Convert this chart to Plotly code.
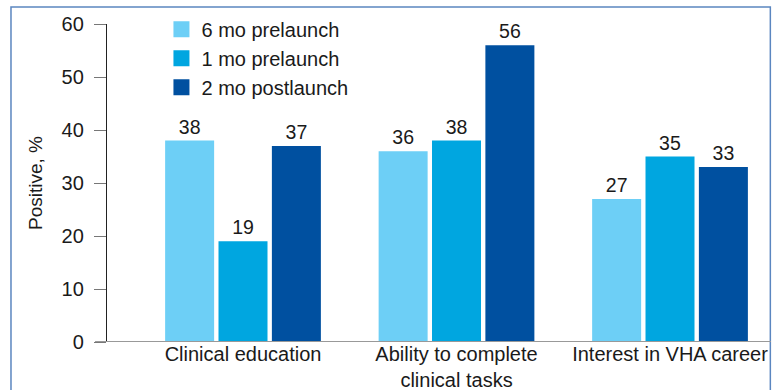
import plotly.graph_objects as go

# Survey results by timepoint
categories = ["Clinical education", "Ability to complete<br>clinical tasks", "Interest in VHA career"]
series_names = ["6 mo prelaunch", "1 mo prelaunch", "2 mo postlaunch"]
six_mo_pre = [38, 36, 27]
one_mo_pre = [19, 38, 35]
two_mo_post = [37, 56, 33]
y_ticks = [0, 10, 20, 30, 40, 50, 60]

colors = ["#6dcff6", "#00a6e0", "#0050a0"]
values = [six_mo_pre, one_mo_pre, two_mo_post]
FONT = "Liberation Sans, Arial, Helvetica, sans-serif"

x_pos = list(range(len(categories)))

fig = go.Figure()
for name, vals, col in zip(series_names, values, colors):
    fig.add_trace(go.Bar(
        x=x_pos, y=vals, name=name,
        marker=dict(color=col, line=dict(width=0)),
        text=[str(v) for v in vals], textposition="outside",
        textfont=dict(size=19.5, color="#1a1a1a", family=FONT),
        cliponaxis=False, showlegend=False,
    ))
    # legend swatch
    fig.add_trace(go.Scatter(
        x=[None], y=[None], mode="markers", name=name,
        marker=dict(symbol="square", size=18, color=col),
    ))

fig.update_layout(
    width=777, height=390,
    margin=dict(l=107, r=6, t=24, b=48),
    paper_bgcolor="white", plot_bgcolor="white",
    barmode="group", bargap=0.25, bargroupgap=0.082,
    font=dict(family=FONT, size=20, color="#1a1a1a"),
    legend=dict(
        x=0.082, y=1.045, xanchor="left", yanchor="top",
        bgcolor="rgba(0,0,0,0)", font=dict(size=20, family=FONT),
        itemsizing="trace", tracegroupgap=0,
    ),
    xaxis=dict(
        range=[-0.637, 2.473], tickvals=x_pos, ticktext=categories,
        showgrid=False, zeroline=False, showline=False, ticks="",
        ticklabelstandoff=-2,
        tickfont=dict(size=20, family=FONT), automargin=False,
    ),
    yaxis=dict(
        range=[0, 60], tickvals=y_ticks, showgrid=False, zeroline=False,
        showline=True, linecolor="#222222", linewidth=1.3,
        ticks="outside", ticklen=12, tickcolor="#777777", tickwidth=1.3,
        ticklabelstandoff=6, automargin=False,
        tickfont=dict(size=20, family=FONT),
        title=dict(text="Positive, %", font=dict(size=19, family=FONT), standoff=13),
    ),
    showlegend=True,
)

# baseline along the category axis
fig.add_shape(type="line", xref="paper", yref="y", x0=-0.018, x1=1.0, y0=0, y1=0,
              line=dict(color="#999999", width=2))
# outer frame
fig.add_shape(type="rect", xref="paper", yref="paper", x0=-0.1446, x1=0.999,
              y0=-0.2, y1=1.0535, line=dict(color="#5b86c0", width=1.5),
              fillcolor="rgba(0,0,0,0)", layer="below")

fig.write_html("out.html")
